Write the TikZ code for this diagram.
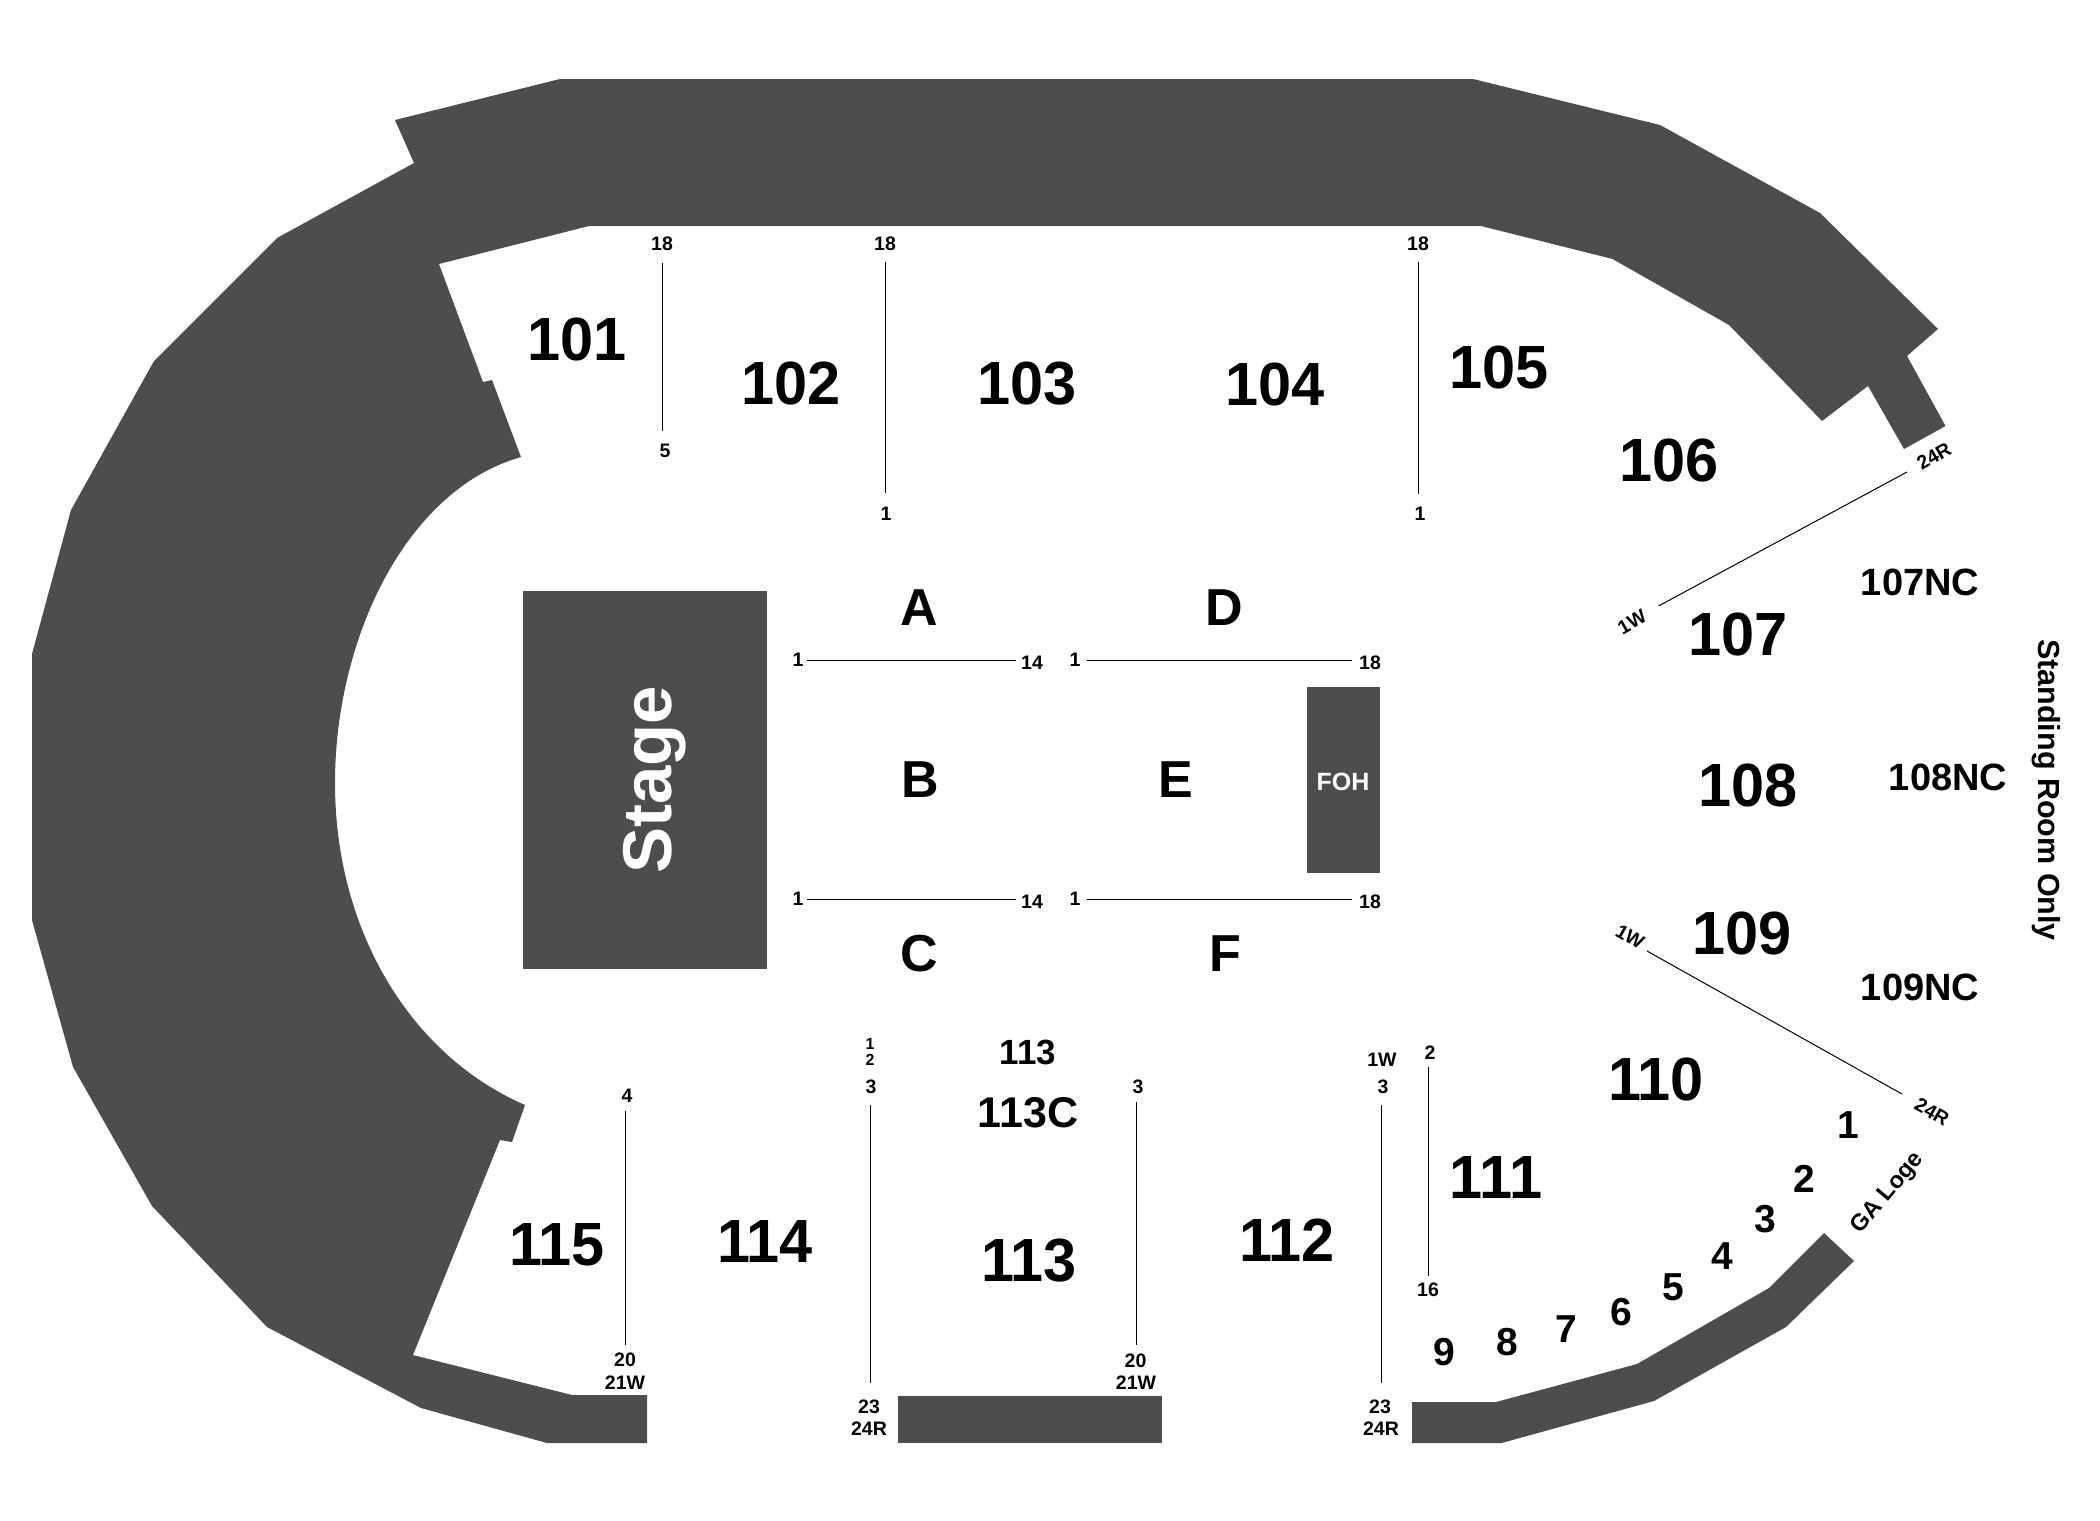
\documentclass[tikz,border=0pt]{standalone}
\usepackage{fontspec}
\setmainfont{Liberation Sans}
\newfontfamily\narrowfont[FakeStretch=0.975]{Liberation Sans}
\definecolor{venue}{HTML}{4D4D4D}
\tikzset{
  lbl/.style={inner sep=0pt,text=black,font=\fontsize{#1pt}{#1pt}\selectfont\bfseries},
  big/.style={inner sep=0pt,text=black,font=\fontsize{61pt}{61pt}\selectfont\narrowfont\bfseries},
  letter/.style={lbl=52},
  nc/.style={lbl=38},
  seatnum/.style={lbl=39},
  tiny/.style={lbl=19.5},
  block/.style={fill=venue,draw=none},
  rowline/.style={draw=black,line width=1pt}
}
\begin{document}
\begin{tikzpicture}[x=1pt,y=-1pt]
\useasboundingbox (0,0) rectangle (2100,1520);
% arena shell
\path[block] (560,79) -- (395,120) -- (414,163) -- (277,238) -- (154,361) -- (71,510) -- (32,654)
  -- (32,920) -- (73,1067) -- (152,1206) -- (267,1327) -- (421,1408) -- (547,1443) -- (647,1443)
  -- (647,1395) -- (572,1395) -- (413,1355) -- (500,1140) -- (512,1142) -- (525,1105)
  .. controls (410,1055) and (335,930) .. (335,783)
  .. controls (335,640) and (405,490) .. (521,457)
  -- (492,380) -- (483,382) -- (439,264) -- (589,226) -- (1481,226) -- (1612.5,259) -- (1729,325)
  -- (1822,421) -- (1868,386) -- (1904,449) -- (1945.5,426) -- (1907,356) -- (1938,329)
  -- (1820,213) -- (1660,125) -- (1473,79) -- cycle;
% GA loge wall
\path[block] (1412,1402) -- (1496,1402) -- (1637,1364) -- (1769,1288) -- (1824,1233) -- (1854,1261)
  -- (1786,1327) -- (1654,1401) -- (1501.5,1443) -- (1412,1443) -- cycle;
% rectangles
\path[block] (523,591) rectangle (767,969);
\path[block] (1307,687) rectangle (1380,873);
\path[block] (898,1396) rectangle (1162,1443);
\node[lbl=69,text=white,rotate=90] (stage) at (655,780) {Stage};
\node[lbl=25,text=white] (foh) at (1343,782) {FOH};
% section names
\node[big] (s101) at (577,339) {101};
\node[big] (s102) at (791,383) {102};
\node[big] (s103) at (1027,384) {103};
\node[big] (s104) at (1275,384) {104};
\node[big] (s105) at (1499,367) {105};
\node[big] (s106) at (1669,460) {106};
\node[big] (s107) at (1738,634) {107};
\node[big] (s108) at (1748,785) {108};
\node[big] (s109) at (1742,933) {109};
\node[big] (s110) at (1656,1079) {110};
\node[big] (s111) at (1496,1177) {111};
\node[big] (s112) at (1287,1240) {112};
\node[big] (s113) at (1029,1261) {113};
\node[big] (s114) at (765,1241) {114};
\node[big] (s115) at (557,1245) {115};
\node[lbl=43] (s113c) at (1028,1113) {113C};
\node[lbl=35] (s113t) at (1028,1052) {113};
\node[nc] (nc107) at (1920,582) {107NC};
\node[nc] (nc108) at (1948,777) {108NC};
\node[nc] (nc109) at (1920,987) {109NC};
\node[lbl=30.5,rotate=-90] (sro) at (2046,790) {Standing Room Only};
% floor sections
\node[letter] (fa) at (919,608) {A};
\node[letter] (fd) at (1224,608) {D};
\node[letter] (fb) at (920,780) {B};
\node[letter] (fe) at (1176,780) {E};
\node[letter] (fc) at (919,954) {C};
\node[letter] (ff) at (1225,954) {F};
% loge boxes
\node[seatnum] (g1) at (1848,1125) {1};
\node[seatnum] (g2) at (1804,1179) {2};
\node[seatnum] (g3) at (1765,1219) {3};
\node[seatnum] (g4) at (1722,1256) {4};
\node[seatnum] (g5) at (1673,1287) {5};
\node[seatnum] (g6) at (1621,1312) {6};
\node[seatnum] (g7) at (1566,1329) {7};
\node[seatnum] (g8) at (1507,1342) {8};
\node[seatnum] (g9) at (1444,1352) {9};
\node[lbl=23.5,rotate=50] (galoge) at (1888,1193) {GA Loge};
% row labels
\node[tiny] (r1t) at (662,244) {18};
\node[tiny] (r1b) at (665,451) {5};
\node[tiny] (r2t) at (885,244) {18};
\node[tiny] (r2b) at (886,514) {1};
\node[tiny] (r3t) at (1418,244) {18};
\node[tiny] (r3b) at (1420,514) {1};
\node[tiny,rotate=30] (r4b) at (1934,456) {24R};
\node[tiny,rotate=30] (r4a) at (1632,622) {1W};
\node[tiny,rotate=-30] (r5a) at (1630,937) {1W};
\node[tiny,rotate=-30] (r5b) at (1932,1112) {24R};
\node[tiny] (ra1) at (798,660) {1};
\node[tiny] (ra2) at (1032,663) {14};
\node[tiny] (rd1) at (1075,660) {1};
\node[tiny] (rd2) at (1370,663) {18};
\node[tiny] (rc1) at (798,899) {1};
\node[tiny] (rc2) at (1032,902) {14};
\node[tiny] (rf1) at (1075,899) {1};
\node[tiny] (rf2) at (1370,902) {18};
\node[tiny] (r6t) at (627,1096) {4};
\node[tiny] (r6b) at (625,1360) {20};
\node[tiny] (r6w) at (625,1383) {21W};
\node[lbl=16] (r7x) at (870,1044) {1};
\node[lbl=16] (r7y) at (870,1060) {2};
\node[tiny] (r7t) at (871,1087) {3};
\node[tiny] (r7b) at (869,1407) {23};
\node[tiny] (r7r) at (869,1429) {24R};
\node[tiny] (r8t) at (1138,1087) {3};
\node[tiny] (r8b) at (1135.5,1361) {20};
\node[tiny] (r8w) at (1136,1383) {21W};
\node[tiny] (r9w) at (1382,1060) {1W};
\node[tiny] (r9t) at (1383,1087) {3};
\node[tiny] (r9b) at (1380,1407) {23};
\node[tiny] (r9r) at (1381,1429) {24R};
\node[tiny] (r10t) at (1430,1053) {2};
\node[tiny] (r10b) at (1428,1290) {16};
% row line ends
\coordinate (l1a) at (662.5,263); \coordinate (l1b) at (662.5,431);
\coordinate (l2a) at (885.5,262);   \coordinate (l2b) at (885.5,493);
\coordinate (l3a) at (1418.5,262);  \coordinate (l3b) at (1418.5,494);
\coordinate (l4a) at (1658.5,606); \coordinate (l4b) at (1907,472);
\coordinate (l5a) at (1647,951);  \coordinate (l5b) at (1902,1094);
\coordinate (laa) at (807,660.5);   \coordinate (lab) at (1015.5,660.5);
\coordinate (lda) at (1086.5,660.5); \coordinate (ldb) at (1352,660.5);
\coordinate (lca) at (807,899.5);   \coordinate (lcb) at (1015.5,899.5);
\coordinate (lfa) at (1086.5,899.5); \coordinate (lfb) at (1352,899.5);
\coordinate (l6a) at (625.5,1110.5); \coordinate (l6b) at (625.5,1345);
\coordinate (l7a) at (870.5,1105); \coordinate (l7b) at (870.5,1383);
\coordinate (l8a) at (1136.5,1102);  \coordinate (l8b) at (1136.5,1345);
\coordinate (l9a) at (1381.5,1105);  \coordinate (l9b) at (1381.5,1383);
\coordinate (l10a) at (1428.5,1067); \coordinate (l10b) at (1428.5,1276);
\foreach \p/\q in {l1a/l1b,l2a/l2b,l3a/l3b,l4a/l4b,l5a/l5b,laa/lab,lda/ldb,lca/lcb,lfa/lfb,l6a/l6b,l7a/l7b,l8a/l8b,l9a/l9b,l10a/l10b}
  \draw[rowline] (\p) -- (\q);
\end{tikzpicture}
\end{document}
